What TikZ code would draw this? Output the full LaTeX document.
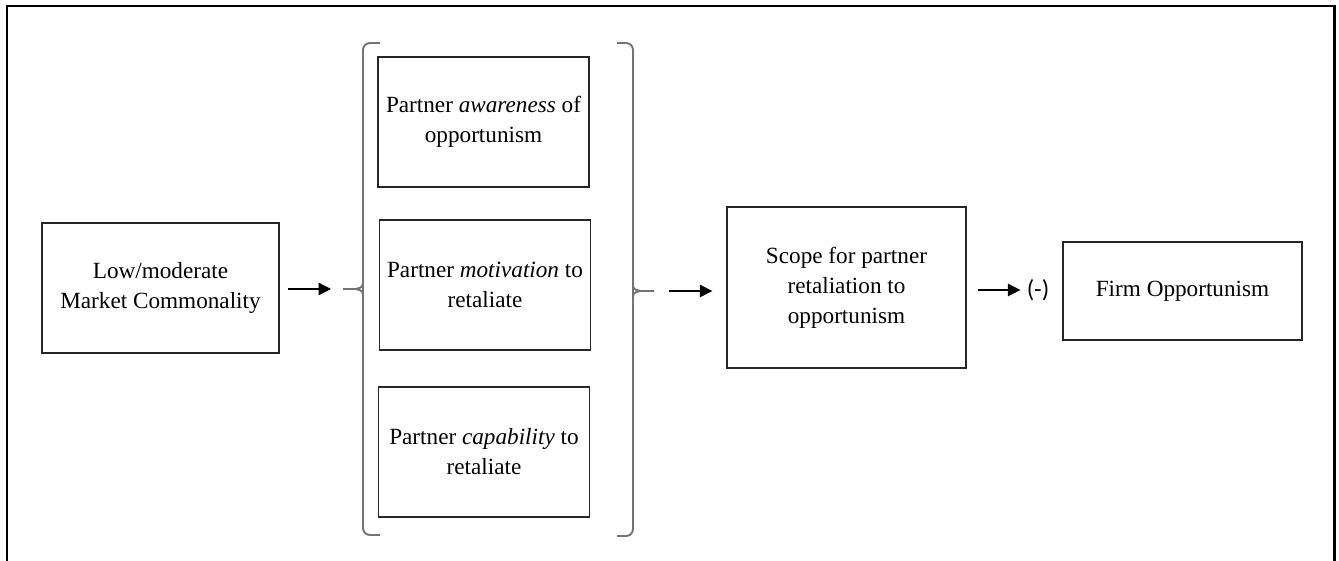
\documentclass[tikz,border=0pt]{standalone}
\usepackage{fontspec}
\setmainfont{Liberation Serif}
\newfontfamily\signfont{Carlito}
\usetikzlibrary{arrows.meta, positioning}

\tikzset{
  factor/.style={draw=black!85, line width=0.75pt, align=center, inner sep=0pt,
    font=\fontsize{13.2}{17}\selectfont},
  link/.style={-{Triangle[length=2.5mm,width=2.5mm]}, line width=0.75pt},
  bracket/.style={draw=black!55, line width=1.1pt, rounded corners=1.4mm}
}

\begin{document}
\begin{tikzpicture}[x=0.2mm,y=-0.2mm]
\useasboundingbox (0,0) rectangle (1339,561);
% frame (open at the bottom)
\draw[line width=1.7pt] (7,561) -- (7,6) -- (1334,6) -- (1334,561);
% boxes
\node[factor, minimum width=47.4mm, minimum height=26mm] (mc) at (160.5,288) {Low/moderate\\Market Commonality};
\node[factor, minimum width=42.2mm, minimum height=26mm] (aware) at (483.5,122) {Partner \textit{awareness} of\\opportunism};
\node[factor, minimum width=42.2mm, minimum height=26mm] (motive) at (485,285) {Partner \textit{motivation} to\\retaliate};
\node[factor, minimum width=42.2mm, minimum height=26mm] (capab) at (484,452) {Partner \textit{capability} to\\retaliate};
\node[factor, minimum width=47.8mm, minimum height=32.2mm] (scope) at (846.5,287.5) {Scope for partner\\retaliation to\\opportunism};
\node[factor, minimum width=47.8mm, minimum height=19.6mm] (firm) at (1182.5,291) {Firm Opportunism};
\node[font=\signfont\fontsize{14}{17}\selectfont, inner sep=0pt] (sign) at (1038,290) {(-)};
% brackets round the three partner boxes
\coordinate (ltip) at (343,289);
\coordinate (rtip) at (654,291);
\draw[bracket] (380,43) -| (363,520) |- (380,535);
\draw[bracket, rounded corners=0pt] (363,280) .. controls (363,287) .. (356,289) -- (ltip);
\draw[bracket, rounded corners=0pt] (363,298) .. controls (363,291) .. (356,289);
\draw[bracket] (617,43) -| (633,520) |- (617,536);
\draw[bracket, rounded corners=0pt] (633,282) .. controls (633,289) .. (640,291) -- (rtip);
\draw[bracket, rounded corners=0pt] (633,300) .. controls (633,293) .. (640,291);
% arrows
\draw[link, shorten <=1.6mm, shorten >=2.4mm] (mc.east |- ltip) -- (ltip);
\draw[link, shorten <=3mm, shorten >=2.8mm] (rtip) -- (scope.west |- rtip);
\draw[link, shorten <=2.2mm, shorten >=1.2mm] (scope.east |- sign) -- (sign.west);
\end{tikzpicture}
\end{document}
